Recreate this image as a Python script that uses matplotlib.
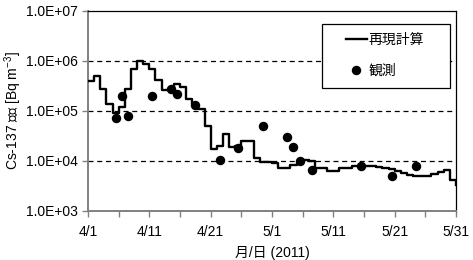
import numpy as np
import matplotlib
matplotlib.use("Agg")
import matplotlib.pyplot as plt
from matplotlib.patches import Rectangle
from matplotlib.ticker import FixedLocator, FuncFormatter

plt.rcParams['font.family'] = ['Liberation Sans', 'Noto Sans CJK JP']
plt.rcParams['mathtext.fontset'] = 'custom'
plt.rcParams['mathtext.rm'] = 'Liberation Sans'
plt.rcParams['mathtext.default'] = 'regular'

# ---- data ----
# simulated daily Cs-137 concentration (Bq m^-3), day 0 = 4/1
sim_days = list(range(61))
sim_values = [
    3.9e5, 5.1e5, 2.8e5, 1.35e5, 9.3e4, 1.23e5, 2.8e5, 6.8e5, 9.8e5, 8.9e5,
    6.8e5, 4.2e5, 2.6e5, 2.6e5, 3.5e5, 3.0e5, 1.75e5, 1.4e5, 1.12e5, 4.9e4,
    1.7e4, 2.0e4, 3.5e4, 1.9e4, 1.95e4, 2.5e4, 2.5e4, 1.15e4, 9.6e3, 9.5e3,
    9.3e3, 7.4e3, 7.4e3, 8.3e3, 9.3e3, 1.07e4, 1.0e4, 7.4e3, 7.4e3, 6.3e3,
    6.2e3, 7.1e3, 7.2e3, 7.9e3, 8.1e3, 8.1e3, 7.9e3, 7.6e3, 7.2e3, 6.8e3,
    6.3e3, 5.8e3, 5.2e3, 5.0e3, 5.0e3, 5.1e3, 5.4e3, 5.9e3, 6.6e3, 4.2e3,
    3.3e3,
]
# observations
obs_days = [4.5, 5.5, 6.5, 10.5, 13.5, 14.5, 17.5, 21.5, 24.5, 28.5,
            32.5, 33.5, 34.5, 36.5, 44.5, 49.5, 53.5]
obs_values = [7.1e4, 1.95e5, 7.9e4, 2.0e5, 2.75e5, 2.15e5, 1.3e5, 1.05e4,
              1.8e4, 5.0e4, 3.0e4, 1.9e4, 9.8e3, 6.6e3, 7.8e3, 5.1e3, 8.1e3]

xtick_pos = [0, 10, 20, 30, 40, 50, 60]
xtick_labels = ['4/1', '4/11', '4/21', '5/1', '5/11', '5/21', '5/31']
ytick_values = [1e3, 1e4, 1e5, 1e6, 1e7]

sim_label = '再現計算'
obs_label = '観測'

W, H = 473, 260
fig = plt.figure(figsize=(W / 100, H / 100), dpi=100)
ax = fig.add_axes([88 / W, 1 - 211 / H, (456 - 88) / W, (211 - 11) / H])

ax.set_yscale('log')
ax.set_ylim(1e3, 1e7)
ax.set_xlim(0, 60)

for v in [1e4, 1e5, 1e6]:
    ax.axhline(v, color='black', lw=0.9, ls=(0, (4, 3)), zorder=1)

ax.step(sim_days, sim_values, where='post', color='black', lw=1.7,
        zorder=4, label=sim_label)
ax.plot(obs_days, obs_values, 'o', color='black', ms=5.8, zorder=5,
        label=obs_label, linestyle='none')

ax.yaxis.set_major_locator(FixedLocator(ytick_values))
ax.yaxis.set_minor_locator(FixedLocator([]))
ax.yaxis.set_major_formatter(FuncFormatter(lambda v, p: '%.1fE+%02d' % (1.0, int(round(np.log10(v))))))
ax.xaxis.set_major_locator(FixedLocator(xtick_pos))
ax.set_xticklabels(xtick_labels)
ax.xaxis.set_minor_locator(FixedLocator([5, 15, 25, 35, 45, 55]))

ax.tick_params(axis='both', which='both', direction='out', length=4,
               width=1, color='#808080', labelsize=10, pad=3)
ax.tick_params(axis='x', which='major', pad=6)

for s in ['left', 'bottom']:
    ax.spines[s].set_color('#808080')
    ax.spines[s].set_linewidth(1.4)
for s in ['top', 'right']:
    ax.spines[s].set_color('black')
    ax.spines[s].set_linewidth(0.9)

ax.set_ylabel('Cs-137 濃度 [Bq m$^{-3}$]', fontsize=10)
ax.yaxis.set_label_coords((24.5 - 88) / 368, 0.5)
ax.set_xlabel('月/日 (2011)', fontsize=10, labelpad=5)

# legend box
rect = Rectangle((321.7 / W, 1 - 88.3 / H), 128.3 / W, 64.3 / H,
                 transform=fig.transFigure, facecolor='white',
                 edgecolor='black', lw=0.9, zorder=6, clip_on=False)
ax.add_patch(rect)
leg = ax.legend(loc='center left', bbox_to_anchor=(346 / W, 1 - 55.2 / H),
                bbox_transform=fig.transFigure, frameon=False, borderpad=0,
                borderaxespad=0, handlelength=1.5, handletextpad=0.1,
                labelspacing=1.2, fontsize=10)
leg.set_zorder(7)

fig.savefig('out.png', dpi=100)
